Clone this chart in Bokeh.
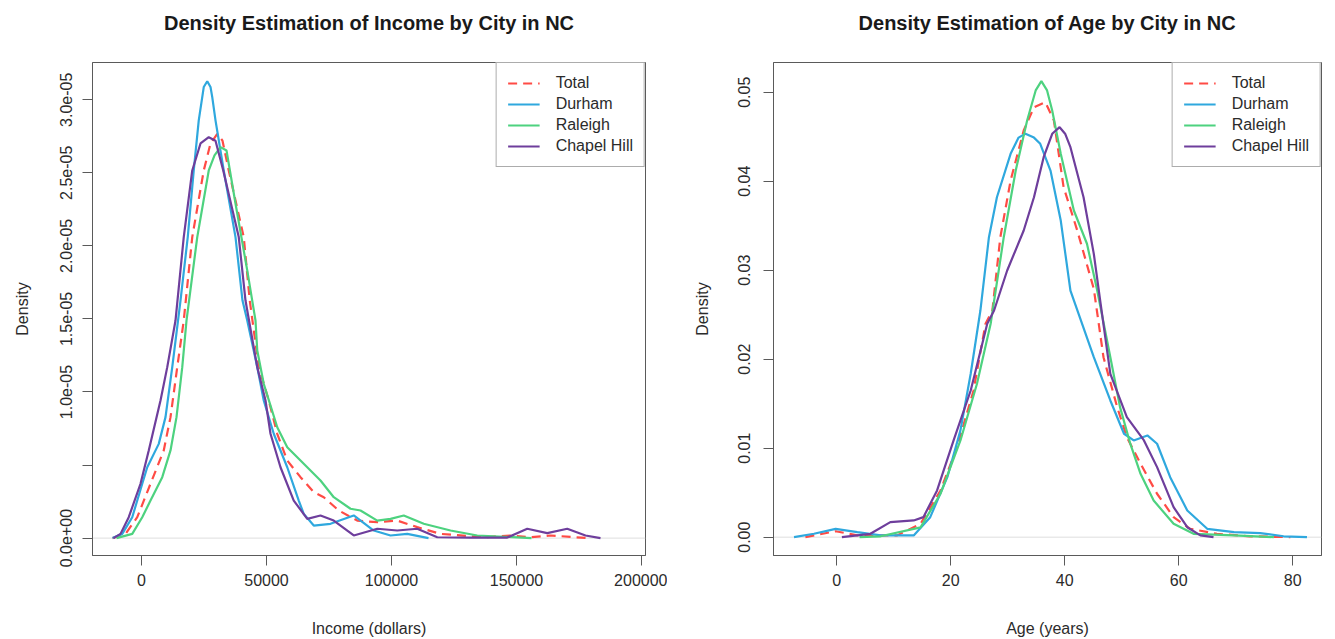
from bokeh.plotting import figure
from bokeh.layouts import row
from bokeh.models import (Range1d, FixedTicker, CustomJSTickFormatter, Legend,
                          LegendItem, Span, Title)
from bokeh.embed import file_html
from bokeh.resources import INLINE

# ---------------- Income (dollars) kernel density estimates ----------------
income_total_x = [-11600, -6400, -1700, 3600, 8900, 11600, 14300, 16900, 20300, 24900,
                  27600, 30300, 32400, 34900, 40900, 43300, 46900, 50900, 54300, 58300,
                  63600, 68900, 72900, 78900, 86300, 94300, 102300, 110300, 119600,
                  136900, 147600, 155600, 163600, 178800]
income_total_y = [0.0, 0.029e-5, 0.143e-5, 0.372e-5, 0.600e-5, 0.828e-5, 1.170e-5, 1.489e-5,
                  2.060e-5, 2.516e-5, 2.700e-5, 2.767e-5, 2.720e-5, 2.516e-5, 2.060e-5,
                  1.626e-5, 1.170e-5, 0.942e-5, 0.714e-5, 0.531e-5, 0.417e-5, 0.314e-5,
                  0.280e-5, 0.189e-5, 0.120e-5, 0.109e-5, 0.120e-5, 0.075e-5, 0.029e-5,
                  0.006e-5, 0.018e-5, 0.006e-5, 0.018e-5, 0.0]

income_durham_x = [-11600, -7700, -3700, 300, 2300, 6900, 9600, 12300, 15600, 18500, 20900,
                   22900, 24300, 24900, 26300, 27600, 28300, 29600, 32900, 37600, 40400,
                   42300, 46300, 48900, 52900, 58300, 62900, 64900, 68900, 75600, 84900,
                   92900, 99600, 106300, 114800]
income_durham_y = [0.0, 0.029e-5, 0.143e-5, 0.372e-5, 0.485e-5, 0.645e-5, 0.828e-5, 1.170e-5,
                   1.626e-5, 2.060e-5, 2.516e-5, 2.859e-5, 3.018e-5, 3.087e-5, 3.127e-5,
                   3.087e-5, 3.018e-5, 2.859e-5, 2.516e-5, 2.060e-5, 1.626e-5, 1.489e-5,
                   1.170e-5, 0.942e-5, 0.714e-5, 0.485e-5, 0.257e-5, 0.166e-5, 0.086e-5,
                   0.098e-5, 0.155e-5, 0.052e-5, 0.018e-5, 0.029e-5, 0.0]

income_raleigh_x = [-10000, -3700, 300, 3600, 8300, 11600, 14000, 16300, 18000, 22300, 26900,
                    29200, 31600, 34000, 37600, 42300, 45600, 46300, 48900, 54300, 58300,
                    63600, 71600, 76900, 83600, 87600, 94300, 99600, 104900, 112900, 123600,
                    134300, 156000]
income_raleigh_y = [0.0, 0.029e-5, 0.143e-5, 0.257e-5, 0.417e-5, 0.600e-5, 0.828e-5, 1.170e-5,
                    1.489e-5, 2.060e-5, 2.516e-5, 2.619e-5, 2.676e-5, 2.653e-5, 2.290e-5,
                    1.832e-5, 1.489e-5, 1.284e-5, 1.056e-5, 0.759e-5, 0.622e-5, 0.531e-5,
                    0.394e-5, 0.280e-5, 0.201e-5, 0.189e-5, 0.120e-5, 0.132e-5, 0.155e-5,
                    0.098e-5, 0.052e-5, 0.018e-5, 0.0]

income_chapel_x = [-11200, -8400, -5100, -400, 2900, 7600, 10300, 13600, 16900, 20300, 23600,
                   26900, 29600, 32700, 38900, 41600, 46300, 49600, 51600, 55600, 60900,
                   66300, 71600, 76900, 84900, 94300, 102300, 110300, 118300, 131600, 146300,
                   154300, 162300, 170300, 177600, 183600]
income_chapel_y = [0.0, 0.029e-5, 0.143e-5, 0.372e-5, 0.600e-5, 0.942e-5, 1.170e-5, 1.489e-5,
                   2.060e-5, 2.516e-5, 2.701e-5, 2.744e-5, 2.720e-5, 2.516e-5, 2.060e-5,
                   1.626e-5, 1.170e-5, 0.942e-5, 0.714e-5, 0.485e-5, 0.257e-5, 0.132e-5,
                   0.155e-5, 0.120e-5, 0.018e-5, 0.064e-5, 0.052e-5, 0.064e-5, 0.006e-5,
                   0.004e-5, 0.004e-5, 0.064e-5, 0.034e-5, 0.064e-5, 0.018e-5, 0.0]

# ---------------- Age (years) kernel density estimates ----------------
age_total_x = [-5.5, -0.2, 3.6, 10.6, 14.7, 18.2, 21.1, 24.0, 26.1, 27.3, 28.7, 30.5, 32.8,
               34.6, 36.6, 38.1, 39.8, 42.2, 45.1, 46.8, 49.2, 50.9, 53.3, 56.2, 59.1, 62.0,
               66.7, 72.5, 79.6]
age_total_y = [0.0, 0.00067, 0.0002, 0.0002, 0.0015, 0.00525, 0.0101, 0.01648, 0.02398,
               0.02547, 0.03371, 0.04008, 0.0457, 0.04831, 0.04888, 0.04682, 0.03933,
               0.03446, 0.0279, 0.02022, 0.01461, 0.01124, 0.00825, 0.00488, 0.00225,
               0.00094, 0.00038, 0.0001, 0.0]

age_durham_x = [-7.5, -4.0, -0.2, 3.6, 7.7, 13.5, 16.4, 19.4, 21.7, 23.5, 25.2, 26.7, 28.1,
                30.5, 31.9, 33.1, 34.6, 35.7, 37.5, 39.3, 41.0, 45.1, 48.0, 50.4, 52.1, 54.5,
                56.2, 58.5, 61.5, 65.0, 69.7, 74.3, 78.4, 82.5]
age_durham_y = [0.0, 0.00038, 0.00094, 0.00056, 0.0002, 0.0002, 0.00225, 0.00674, 0.012,
                0.01836, 0.02547, 0.03371, 0.0382, 0.04308, 0.0449, 0.04533, 0.0449, 0.0442,
                0.0412, 0.03558, 0.0277, 0.02022, 0.01536, 0.01162, 0.01087, 0.01143, 0.0105,
                0.00674, 0.0030, 0.00094, 0.00056, 0.00045, 0.0001, 0.0]

age_raleigh_x = [4.0, 7.7, 14.7, 18.2, 21.7, 24.6, 27.0, 29.3, 31.4, 33.4, 34.9, 35.9, 36.9,
                 37.8, 39.3, 41.6, 43.9, 45.7, 48.0, 49.7, 51.5, 53.3, 55.6, 59.1, 62.6, 69.7,
                 76.7]
age_raleigh_y = [0.0, 0.0001, 0.0011, 0.00488, 0.01087, 0.01724, 0.02398, 0.03371, 0.0412,
                 0.04682, 0.0502, 0.05124, 0.0502, 0.04794, 0.04308, 0.03671, 0.03297,
                 0.02772, 0.02022, 0.01461, 0.0105, 0.00712, 0.00412, 0.0015, 0.00038,
                 0.0002, 0.0]

age_chapel_x = [0.9, 5.9, 9.4, 13.5, 15.2, 17.6, 20.5, 23.5, 26.4, 27.6, 29.9, 32.8, 34.6,
                36.3, 37.8, 39.1, 40.1, 41.0, 43.3, 45.1, 46.3, 48.0, 50.9, 53.9, 56.2, 59.1,
                61.5, 63.8, 66.1]
age_chapel_y = [0.0, 0.00038, 0.00169, 0.00188, 0.00225, 0.00525, 0.01087, 0.01648, 0.02398,
                0.02547, 0.02997, 0.03446, 0.0382, 0.0427, 0.04533, 0.04607, 0.0453, 0.04382,
                0.0382, 0.03184, 0.02622, 0.01836, 0.01348, 0.01087, 0.00787, 0.00337,
                0.00112, 0.0002, 0.0]

# ---------------- Axis ticks and labels ----------------
income_xticks = [0, 50000, 100000, 150000, 200000]
income_xlabels = ["0", "50000", "100000", "150000", "200000"]
income_yticks = [0.0, 0.5e-5, 1.0e-5, 1.5e-5, 2.0e-5, 2.5e-5, 3.0e-5]
income_ylabels = ["0.0e+00", "", "1.0e-05", "1.5e-05", "2.0e-05", "2.5e-05", "3.0e-05"]
age_xticks = [0, 20, 40, 60, 80]
age_xlabels = ["0", "20", "40", "60", "80"]
age_yticks = [0.0, 0.01, 0.02, 0.03, 0.04, 0.05]
age_ylabels = ["0.00", "0.01", "0.02", "0.03", "0.04", "0.05"]

series_names = ["Total", "Durham", "Raleigh", "Chapel Hill"]
series_colors = ["#FF4B45", "#2FA8DE", "#4DD27F", "#6E3E9C"]

FONT = "Liberation Sans"
TEXT = "#2b2b2b"
FRAME = "#5a5a5a"


def label_formatter(tick_values, tick_labels):
    return CustomJSTickFormatter(
        args=dict(tv=tick_values, tl=tick_labels),
        code="""
        let best = 0, bd = Infinity;
        for (let i = 0; i < tv.length; i++) {
            const d = Math.abs(tv[i] - tick);
            if (d < bd) { bd = d; best = i; }
        }
        return tl[best];
        """)


def style_axis(ax, ticks, labels, label_standoff, title_standoff, vertical=False):
    ax.ticker = FixedTicker(ticks=ticks)
    ax.formatter = label_formatter(ticks, labels)
    ax.axis_line_color = FRAME
    ax.major_tick_line_color = FRAME
    ax.minor_tick_line_color = None
    ax.major_tick_in = 0
    ax.major_tick_out = 10
    ax.major_label_text_font = FONT
    ax.major_label_text_font_size = "16px"
    ax.major_label_text_color = TEXT
    ax.major_label_standoff = label_standoff
    ax.axis_label_text_font = FONT
    ax.axis_label_text_font_size = "16px"
    ax.axis_label_text_font_style = "normal"
    ax.axis_label_text_color = TEXT
    ax.axis_label_standoff = title_standoff
    if vertical:
        ax.major_label_orientation = "vertical"


def density_panel(title, xlabel, xs, ys, x_range, y_range, xticks, xlabels,
                  yticks, ylabels, width, border_left, border_right,
                  ylab_standoff, ytitle_standoff):
    p = figure(width=width, height=639,
               x_range=Range1d(*x_range), y_range=Range1d(*y_range),
               output_backend="svg", toolbar_location=None,
               min_border_left=border_left, min_border_right=border_right,
               min_border_top=62, min_border_bottom=84,
               x_axis_label=xlabel, y_axis_label="Density")
    p.grid.visible = False
    p.background_fill_color = "white"
    p.border_fill_color = "white"
    p.outline_line_color = FRAME
    p.outline_line_width = 1

    # blank strip between the frame and the main title, then the title itself
    p.add_layout(Title(text="\u00a0", text_font_size="20px", standoff=0), "above")
    p.add_layout(Title(text=title, align="center", text_font=FONT,
                       text_font_size="20px", text_font_style="bold",
                       text_color="#1a1a1a"), "above")

    style_axis(p.xaxis[0], xticks, xlabels, 8, 31)
    style_axis(p.yaxis[0], yticks, ylabels, ylab_standoff, ytitle_standoff, vertical=True)

    p.add_layout(Span(location=0, dimension="width", line_color="#dedede",
                      line_width=1, level="underlay"))

    renderers = []
    for (x, y), color, name in zip(zip(xs, ys), series_colors, series_names):
        dash = "9 6" if name == "Total" else "solid"
        r = p.line(x, y, line_color=color, line_width=2.2, line_dash=dash)
        renderers.append((name, r))
    legend = Legend(items=[LegendItem(label=n, renderers=[r]) for n, r in renderers],
                    location="top_right", margin=0, padding=11, spacing=3,
                    glyph_width=32, glyph_height=18, label_height=18,
                    label_standoff=16, label_text_font=FONT,
                    label_text_font_size="16px", label_text_color=TEXT,
                    border_line_color=FRAME, border_line_width=1,
                    background_fill_color="white", background_fill_alpha=1.0)
    p.add_layout(legend)
    return p


p1 = density_panel("Density Estimation of Income by City in NC", "Income (dollars)",
                   [income_total_x, income_durham_x, income_raleigh_x, income_chapel_x],
                   [income_total_y, income_durham_y, income_raleigh_y, income_chapel_y],
                   (-19600, 201600), (-1.19e-6, 3.255e-5),
                   income_xticks, income_xlabels, income_yticks, income_ylabels,
                   width=667, border_left=92, border_right=22,
                   ylab_standoff=10, ytitle_standoff=27)

p2 = density_panel("Density Estimation of Age by City in NC", "Age (years)",
                   [age_total_x, age_durham_x, age_raleigh_x, age_chapel_x],
                   [age_total_y, age_durham_y, age_raleigh_y, age_chapel_y],
                   (-11.1, 85.05), (-0.00206, 0.05334),
                   age_xticks, age_xlabels, age_yticks, age_ylabels,
                   width=668, border_left=106, border_right=14,
                   ylab_standoff=13, ytitle_standoff=25)

layout = row(p1, p2)
open("out.html", "w").write(file_html(layout, INLINE))
